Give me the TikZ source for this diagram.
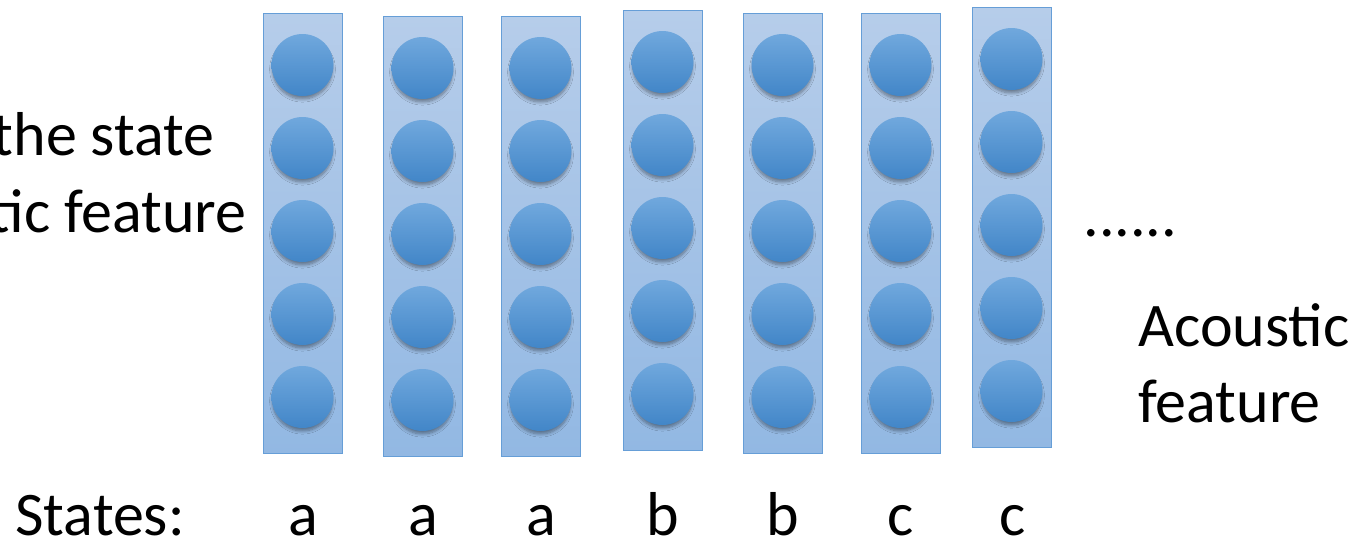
\documentclass[tikz,border=0pt]{standalone}
\usepackage{fontspec}
\setmainfont{Carlito}
\usetikzlibrary{shadows.blur}
\definecolor{boxline}{RGB}{102,158,215}
\definecolor{boxtop}{RGB}{182,205,234}
\definecolor{boxbot}{RGB}{146,184,227}
\definecolor{unittop}{RGB}{112,168,221}
\definecolor{unitbot}{RGB}{66,134,200}

\begin{document}
\begin{tikzpicture}[x=0.5pt,y=-0.5pt,
	column box/.style={draw=boxline,line width=0.6pt,top color=boxtop,bottom color=boxbot,minimum width=39.5pt,minimum height=220pt,inner sep=0pt,anchor=north west},
	unit node/.style={circle,inner sep=0pt,minimum size=31pt,top color=unittop,bottom color=unitbot,blur shadow={shadow xshift=0pt,shadow yshift=-2.2pt,shadow scale=0.96,shadow blur radius=1.6pt,shadow blur steps=8,shadow opacity=40}},
	label text/.style={font=\fontsize{31}{37}\selectfont,inner sep=0pt}]
	\useasboundingbox (0,0) rectangle (1372,543);
	\foreach \i/\x/\y in {1/263/13,2/383/16,3/501/16,4/623/10,5/743/13,6/861/13,7/972/7}{
		\node[column box] (col\i) at (\x,\y) {};
		\foreach \j in {1,...,5}
			\node[unit node] (u\i\j) at ({\x+39.5},{\y+52+83*(\j-1)}) {};
	}
	\node[label text,anchor=base east] (lefta) at (215,155) {the state};
	\node[label text,anchor=base east] (leftb) at (247,232) {tic feature};
	\node[label text,anchor=base west] (dots) at (1083,236) {......};
	\node[label text,anchor=base west] (acou) at (1138,346) {Acoustic};
	\node[label text,anchor=base west] (feat) at (1138,422) {feature};
	\node[label text,anchor=base west] (states) at (15,535) {States:};
	\foreach \i/\s in {1/a,2/a,3/a,4/b,5/b,6/c,7/c}
		\node[label text,anchor=base] (s\i) at (col\i.north |- states.base) {\s};
\end{tikzpicture}
\end{document}
